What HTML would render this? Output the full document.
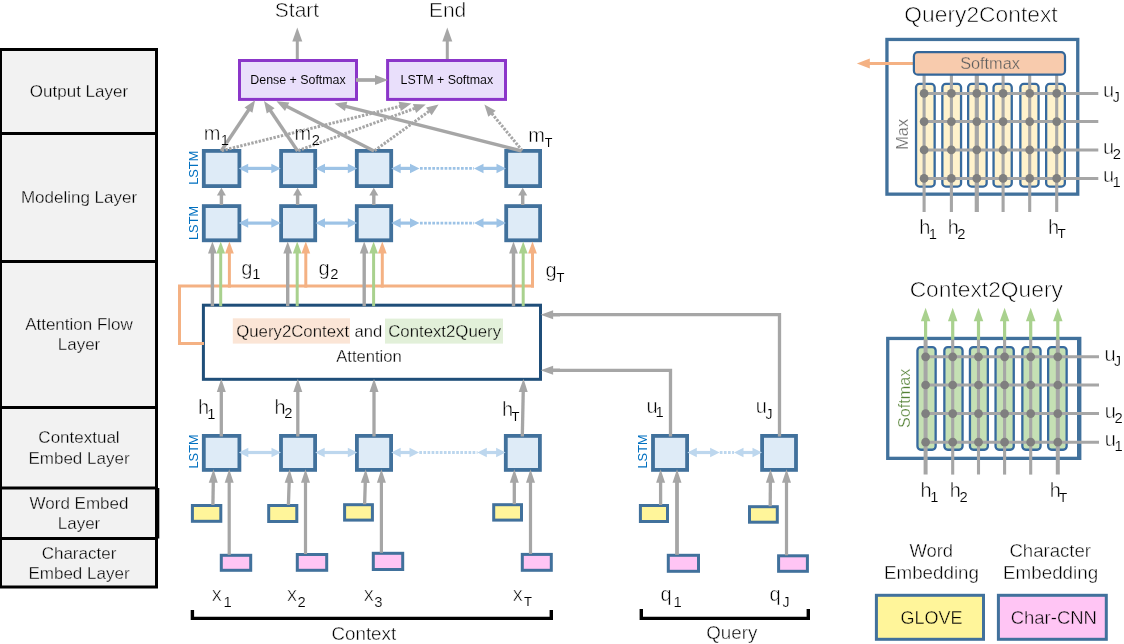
<!DOCTYPE html>
<html><head><meta charset="utf-8"><title>BiDAF</title>
<style>
html,body{margin:0;padding:0;background:#fff;}
body{width:1124px;height:644px;overflow:hidden;}
svg{display:block;font-family:"Liberation Sans",sans-serif;}
</style></head><body>
<svg width="1124" height="644" viewBox="0 0 1124 644" style="will-change:transform">
<rect width="1124" height="644" fill="#fff"/>
<rect x="0.5" y="49.5" width="156" height="537.5" fill="#F2F2F2" stroke="#000" stroke-width="3"/>
<line x1="0" y1="133.5" x2="158" y2="133.5" stroke="#000" stroke-width="3"/>
<line x1="0" y1="261.5" x2="158" y2="261.5" stroke="#000" stroke-width="3"/>
<line x1="0" y1="407.5" x2="158" y2="407.5" stroke="#000" stroke-width="3"/>
<line x1="0" y1="488" x2="158" y2="488" stroke="#000" stroke-width="3"/>
<line x1="0" y1="538.5" x2="158" y2="538.5" stroke="#000" stroke-width="3"/>
<line x1="157.3" y1="488" x2="157.3" y2="538.5" stroke="#000" stroke-width="4"/>
<line x1="297.30" y1="60.00" x2="297.30" y2="38.60" stroke="#A6A6A6" stroke-width="3"/>
<polygon points="297.30,27.40 302.30,41.40 292.30,41.40" fill="#A6A6A6"/>
<line x1="447.30" y1="60.00" x2="447.30" y2="38.60" stroke="#A6A6A6" stroke-width="3"/>
<polygon points="447.30,27.40 452.30,41.40 442.30,41.40" fill="#A6A6A6"/>
<rect x="239.50" y="60.50" width="117.00" height="38.90" fill="#E9DFFB" stroke="#8B36C9" stroke-width="3" rx="0"/>
<rect x="387.60" y="60.50" width="117.90" height="38.90" fill="#E9DFFB" stroke="#8B36C9" stroke-width="3" rx="0"/>
<line x1="356.00" y1="80.00" x2="377.60" y2="80.00" stroke="#A6A6A6" stroke-width="3.7"/>
<polygon points="388.00,80.00 375.00,84.90 375.00,75.10" fill="#A6A6A6"/>
<rect x="203.80" y="150.90" width="35.60" height="35.20" fill="#DEEBF7" stroke="#41719C" stroke-width="3.8" rx="0"/>
<rect x="281.10" y="150.90" width="34.10" height="35.20" fill="#DEEBF7" stroke="#41719C" stroke-width="3.8" rx="0"/>
<rect x="356.80" y="150.90" width="34.40" height="35.20" fill="#DEEBF7" stroke="#41719C" stroke-width="3.8" rx="0"/>
<rect x="506.20" y="150.90" width="33.90" height="35.20" fill="#DEEBF7" stroke="#41719C" stroke-width="3.8" rx="0"/>
<rect x="203.80" y="206.10" width="35.60" height="34.20" fill="#DEEBF7" stroke="#41719C" stroke-width="3.8" rx="0"/>
<rect x="281.10" y="206.10" width="34.10" height="34.20" fill="#DEEBF7" stroke="#41719C" stroke-width="3.8" rx="0"/>
<rect x="356.80" y="206.10" width="34.40" height="34.20" fill="#DEEBF7" stroke="#41719C" stroke-width="3.8" rx="0"/>
<rect x="506.20" y="206.10" width="33.90" height="34.20" fill="#DEEBF7" stroke="#41719C" stroke-width="3.8" rx="0"/>
<line x1="221.80" y1="150.60" x2="402.08" y2="105.81" stroke="#A6A6A6" stroke-width="3" stroke-dasharray="2.4 1.4"/>
<polygon points="411.40,103.50 400.90,111.00 398.61,101.78" fill="#A6A6A6"/>
<line x1="298.20" y1="150.60" x2="416.77" y2="107.67" stroke="#A6A6A6" stroke-width="3" stroke-dasharray="2.4 1.4"/>
<polygon points="425.80,104.40 416.13,112.95 412.90,104.02" fill="#A6A6A6"/>
<line x1="374.60" y1="150.60" x2="430.82" y2="110.02" stroke="#A6A6A6" stroke-width="3" stroke-dasharray="2.4 1.4"/>
<polygon points="438.60,104.40 431.65,115.28 426.09,107.57" fill="#A6A6A6"/>
<line x1="522.20" y1="150.60" x2="490.48" y2="111.83" stroke="#A6A6A6" stroke-width="3" stroke-dasharray="2.4 1.4"/>
<polygon points="484.40,104.40 495.68,110.68 488.32,116.70" fill="#A6A6A6"/>
<line x1="221.20" y1="151.00" x2="249.77" y2="108.19" stroke="#A6A6A6" stroke-width="3.4"/>
<polygon points="255.10,100.20 252.39,112.82 244.49,107.54" fill="#A6A6A6"/>
<line x1="297.60" y1="151.00" x2="269.35" y2="108.97" stroke="#A6A6A6" stroke-width="3.4"/>
<polygon points="264.00,101.00 274.64,108.31 266.75,113.61" fill="#A6A6A6"/>
<line x1="374.00" y1="151.00" x2="285.05" y2="105.57" stroke="#A6A6A6" stroke-width="3.4"/>
<polygon points="276.50,101.20 289.35,102.43 285.03,110.89" fill="#A6A6A6"/>
<line x1="521.60" y1="151.00" x2="343.80" y2="105.86" stroke="#A6A6A6" stroke-width="3.4"/>
<polygon points="334.50,103.50 347.30,101.85 344.96,111.06" fill="#A6A6A6"/>
<line x1="221.40" y1="205.00" x2="221.40" y2="194.04" stroke="#A6A6A6" stroke-width="3.4"/>
<polygon points="221.40,187.80 225.90,195.60 216.90,195.60" fill="#A6A6A6"/>
<line x1="297.60" y1="205.00" x2="297.60" y2="194.04" stroke="#A6A6A6" stroke-width="3.4"/>
<polygon points="297.60,187.80 302.10,195.60 293.10,195.60" fill="#A6A6A6"/>
<line x1="373.80" y1="205.00" x2="373.80" y2="194.04" stroke="#A6A6A6" stroke-width="3.4"/>
<polygon points="373.80,187.80 378.30,195.60 369.30,195.60" fill="#A6A6A6"/>
<line x1="522.70" y1="205.00" x2="522.70" y2="194.04" stroke="#A6A6A6" stroke-width="3.4"/>
<polygon points="522.70,187.80 527.20,195.60 518.20,195.60" fill="#A6A6A6"/>
<line x1="246.30" y1="168.40" x2="273.20" y2="168.40" stroke="#9DC3E6" stroke-width="3.2"/>
<polygon points="280.80,168.40 271.30,173.15 271.30,163.65" fill="#9DC3E6"/>
<polygon points="238.70,168.40 248.20,173.15 248.20,163.65" fill="#9DC3E6"/>
<line x1="323.10" y1="168.40" x2="349.70" y2="168.40" stroke="#9DC3E6" stroke-width="3.2"/>
<polygon points="357.30,168.40 347.80,173.15 347.80,163.65" fill="#9DC3E6"/>
<polygon points="315.50,168.40 325.00,173.15 325.00,163.65" fill="#9DC3E6"/>
<line x1="398.80" y1="168.40" x2="411.90" y2="168.40" stroke="#9DC3E6" stroke-width="3.2"/>
<polygon points="419.50,168.40 410.00,173.15 410.00,163.65" fill="#9DC3E6"/>
<polygon points="391.20,168.40 400.70,173.15 400.70,163.65" fill="#9DC3E6"/>
<line x1="481.60" y1="168.40" x2="498.40" y2="168.40" stroke="#9DC3E6" stroke-width="3.2"/>
<polygon points="506.00,168.40 496.50,173.15 496.50,163.65" fill="#9DC3E6"/>
<polygon points="474.00,168.40 483.50,173.15 483.50,163.65" fill="#9DC3E6"/>
<line x1="420" y1="168.4" x2="474" y2="168.4" stroke="#9DC3E6" stroke-width="2.8" stroke-dasharray="2.7 1.4"/>
<line x1="246.30" y1="223.10" x2="273.20" y2="223.10" stroke="#9DC3E6" stroke-width="3.2"/>
<polygon points="280.80,223.10 271.30,227.85 271.30,218.35" fill="#9DC3E6"/>
<polygon points="238.70,223.10 248.20,227.85 248.20,218.35" fill="#9DC3E6"/>
<line x1="323.10" y1="223.10" x2="349.70" y2="223.10" stroke="#9DC3E6" stroke-width="3.2"/>
<polygon points="357.30,223.10 347.80,227.85 347.80,218.35" fill="#9DC3E6"/>
<polygon points="315.50,223.10 325.00,227.85 325.00,218.35" fill="#9DC3E6"/>
<line x1="398.80" y1="223.10" x2="411.90" y2="223.10" stroke="#9DC3E6" stroke-width="3.2"/>
<polygon points="419.50,223.10 410.00,227.85 410.00,218.35" fill="#9DC3E6"/>
<polygon points="391.20,223.10 400.70,227.85 400.70,218.35" fill="#9DC3E6"/>
<line x1="481.60" y1="223.10" x2="498.40" y2="223.10" stroke="#9DC3E6" stroke-width="3.2"/>
<polygon points="506.00,223.10 496.50,227.85 496.50,218.35" fill="#9DC3E6"/>
<polygon points="474.00,223.10 483.50,227.85 483.50,218.35" fill="#9DC3E6"/>
<line x1="420" y1="223.1" x2="474" y2="223.1" stroke="#9DC3E6" stroke-width="2.8" stroke-dasharray="2.7 1.4"/>
<rect x="203.40" y="305.20" width="337.10" height="74.10" fill="#fff" stroke="#1F4E79" stroke-width="3" rx="0"/>
<polyline points="204,343.6 179.5,343.6 179.5,286.1 534,286.1" fill="none" stroke="#F4B183" stroke-width="3"/>
<line x1="212.40" y1="306.20" x2="212.40" y2="251.20" stroke="#A6A6A6" stroke-width="3.4"/>
<polygon points="212.40,241.60 216.80,253.60 208.00,253.60" fill="#A6A6A6"/>
<line x1="220.70" y1="306.20" x2="220.70" y2="251.20" stroke="#A9D18E" stroke-width="3"/>
<polygon points="220.70,241.60 225.10,253.60 216.30,253.60" fill="#A9D18E"/>
<line x1="229.40" y1="287.60" x2="229.40" y2="251.20" stroke="#F4B183" stroke-width="3"/>
<polygon points="229.40,241.60 233.80,253.60 225.00,253.60" fill="#F4B183"/>
<line x1="287.70" y1="306.20" x2="287.70" y2="251.20" stroke="#A6A6A6" stroke-width="3.4"/>
<polygon points="287.70,241.60 292.10,253.60 283.30,253.60" fill="#A6A6A6"/>
<line x1="297.20" y1="306.20" x2="297.20" y2="251.20" stroke="#A9D18E" stroke-width="3"/>
<polygon points="297.20,241.60 301.60,253.60 292.80,253.60" fill="#A9D18E"/>
<line x1="305.80" y1="287.60" x2="305.80" y2="251.20" stroke="#F4B183" stroke-width="3"/>
<polygon points="305.80,241.60 310.20,253.60 301.40,253.60" fill="#F4B183"/>
<line x1="364.20" y1="306.20" x2="364.20" y2="251.20" stroke="#A6A6A6" stroke-width="3.4"/>
<polygon points="364.20,241.60 368.60,253.60 359.80,253.60" fill="#A6A6A6"/>
<line x1="373.60" y1="306.20" x2="373.60" y2="251.20" stroke="#A9D18E" stroke-width="3"/>
<polygon points="373.60,241.60 378.00,253.60 369.20,253.60" fill="#A9D18E"/>
<line x1="382.30" y1="287.60" x2="382.30" y2="251.20" stroke="#F4B183" stroke-width="3"/>
<polygon points="382.30,241.60 386.70,253.60 377.90,253.60" fill="#F4B183"/>
<line x1="513.50" y1="306.20" x2="513.50" y2="251.20" stroke="#A6A6A6" stroke-width="3.4"/>
<polygon points="513.50,241.60 517.90,253.60 509.10,253.60" fill="#A6A6A6"/>
<line x1="523.20" y1="306.20" x2="523.20" y2="251.20" stroke="#A9D18E" stroke-width="3"/>
<polygon points="523.20,241.60 527.60,253.60 518.80,253.60" fill="#A9D18E"/>
<line x1="532.50" y1="287.60" x2="532.50" y2="251.20" stroke="#F4B183" stroke-width="3"/>
<polygon points="532.50,241.60 536.90,253.60 528.10,253.60" fill="#F4B183"/>
<rect x="232.8" y="318.3" width="117.2" height="25.3" fill="#FBE5D6"/>
<rect x="385" y="318.6" width="118" height="25" fill="#E2F0D9"/>
<rect x="203.80" y="435.90" width="35.60" height="34.00" fill="#DEEBF7" stroke="#41719C" stroke-width="3.8" rx="0"/>
<rect x="281.00" y="435.90" width="34.10" height="34.00" fill="#DEEBF7" stroke="#41719C" stroke-width="3.8" rx="0"/>
<rect x="356.90" y="435.90" width="34.20" height="34.00" fill="#DEEBF7" stroke="#41719C" stroke-width="3.8" rx="0"/>
<rect x="505.80" y="435.90" width="34.10" height="34.00" fill="#DEEBF7" stroke="#41719C" stroke-width="3.8" rx="0"/>
<rect x="653.00" y="435.90" width="34.10" height="34.00" fill="#DEEBF7" stroke="#41719C" stroke-width="3.8" rx="0"/>
<rect x="762.10" y="435.90" width="33.90" height="34.00" fill="#DEEBF7" stroke="#41719C" stroke-width="3.8" rx="0"/>
<rect x="192.40" y="505.50" width="28.40" height="15.80" fill="#FFF59A" stroke="#41719C" stroke-width="3" rx="0"/>
<rect x="221.30" y="555.30" width="29.40" height="15.00" fill="#FFC5F4" stroke="#41719C" stroke-width="3" rx="0"/>
<line x1="212.90" y1="505.00" x2="213.32" y2="480.10" stroke="#A6A6A6" stroke-width="3.3"/>
<polygon points="213.50,469.30 217.77,482.87 208.77,482.72" fill="#A6A6A6"/>
<line x1="229.20" y1="554.80" x2="229.20" y2="480.10" stroke="#A6A6A6" stroke-width="3.2"/>
<polygon points="229.20,469.30 233.70,482.80 224.70,482.80" fill="#A6A6A6"/>
<rect x="268.70" y="505.50" width="28.10" height="16.00" fill="#FFF59A" stroke="#41719C" stroke-width="3" rx="0"/>
<rect x="297.30" y="554.50" width="29.40" height="15.80" fill="#FFC5F4" stroke="#41719C" stroke-width="3" rx="0"/>
<line x1="288.40" y1="505.00" x2="289.24" y2="480.09" stroke="#A6A6A6" stroke-width="3.3"/>
<polygon points="289.60,469.30 293.64,482.94 284.65,482.64" fill="#A6A6A6"/>
<line x1="305.50" y1="554.00" x2="305.50" y2="480.10" stroke="#A6A6A6" stroke-width="3.2"/>
<polygon points="305.50,469.30 310.00,482.80 301.00,482.80" fill="#A6A6A6"/>
<rect x="344.60" y="504.70" width="27.80" height="15.40" fill="#FFF59A" stroke="#41719C" stroke-width="3" rx="0"/>
<rect x="373.30" y="553.30" width="29.40" height="16.20" fill="#FFC5F4" stroke="#41719C" stroke-width="3" rx="0"/>
<line x1="364.60" y1="504.20" x2="365.36" y2="480.09" stroke="#A6A6A6" stroke-width="3.3"/>
<polygon points="365.70,469.30 369.77,482.94 360.78,482.65" fill="#A6A6A6"/>
<line x1="381.40" y1="552.80" x2="381.40" y2="480.10" stroke="#A6A6A6" stroke-width="3.2"/>
<polygon points="381.40,469.30 385.90,482.80 376.90,482.80" fill="#A6A6A6"/>
<rect x="493.70" y="504.70" width="27.80" height="15.40" fill="#FFF59A" stroke="#41719C" stroke-width="3" rx="0"/>
<rect x="522.30" y="554.40" width="29.00" height="15.90" fill="#FFC5F4" stroke="#41719C" stroke-width="3" rx="0"/>
<line x1="514.30" y1="504.20" x2="514.30" y2="480.10" stroke="#A6A6A6" stroke-width="3.3"/>
<polygon points="514.30,469.30 518.80,482.80 509.80,482.80" fill="#A6A6A6"/>
<line x1="530.50" y1="553.90" x2="530.50" y2="480.10" stroke="#A6A6A6" stroke-width="3.2"/>
<polygon points="530.50,469.30 535.00,482.80 526.00,482.80" fill="#A6A6A6"/>
<rect x="640.40" y="505.50" width="27.10" height="16.00" fill="#FFF59A" stroke="#41719C" stroke-width="3" rx="0"/>
<rect x="668.30" y="555.30" width="30.20" height="16.00" fill="#FFC5F4" stroke="#41719C" stroke-width="3" rx="0"/>
<line x1="660.60" y1="505.00" x2="660.60" y2="480.10" stroke="#A6A6A6" stroke-width="3.3"/>
<polygon points="660.60,469.30 665.10,482.80 656.10,482.80" fill="#A6A6A6"/>
<line x1="677.00" y1="554.80" x2="677.00" y2="480.10" stroke="#A6A6A6" stroke-width="3.8"/>
<polygon points="677.00,469.30 681.50,482.80 672.50,482.80" fill="#A6A6A6"/>
<rect x="749.50" y="506.70" width="27.80" height="15.50" fill="#FFF59A" stroke="#41719C" stroke-width="3" rx="0"/>
<rect x="778.60" y="555.80" width="28.80" height="15.50" fill="#FFC5F4" stroke="#41719C" stroke-width="3" rx="0"/>
<line x1="770.20" y1="506.20" x2="770.41" y2="480.10" stroke="#A6A6A6" stroke-width="3.3"/>
<polygon points="770.50,469.30 774.89,482.84 765.89,482.76" fill="#A6A6A6"/>
<line x1="786.50" y1="555.30" x2="786.50" y2="480.10" stroke="#A6A6A6" stroke-width="3.2"/>
<polygon points="786.50,469.30 791.00,482.80 782.00,482.80" fill="#A6A6A6"/>
<line x1="221.30" y1="436.50" x2="221.30" y2="389.36" stroke="#A6A6A6" stroke-width="3.3"/>
<polygon points="221.30,378.80 225.80,392.00 216.80,392.00" fill="#A6A6A6"/>
<line x1="297.80" y1="436.50" x2="297.80" y2="389.36" stroke="#A6A6A6" stroke-width="3.3"/>
<polygon points="297.80,378.80 302.30,392.00 293.30,392.00" fill="#A6A6A6"/>
<line x1="374.00" y1="436.50" x2="374.00" y2="389.36" stroke="#A6A6A6" stroke-width="3.3"/>
<polygon points="374.00,378.80 378.50,392.00 369.50,392.00" fill="#A6A6A6"/>
<line x1="522.30" y1="436.50" x2="523.28" y2="389.36" stroke="#A6A6A6" stroke-width="3.3"/>
<polygon points="523.50,378.80 527.72,392.09 518.73,391.90" fill="#A6A6A6"/>
<line x1="246.40" y1="452.50" x2="273.40" y2="452.50" stroke="#BDD7EE" stroke-width="3.2"/>
<polygon points="281.00,452.50 271.50,457.25 271.50,447.75" fill="#BDD7EE"/>
<polygon points="238.80,452.50 248.30,457.25 248.30,447.75" fill="#BDD7EE"/>
<line x1="322.80" y1="452.50" x2="349.70" y2="452.50" stroke="#BDD7EE" stroke-width="3.2"/>
<polygon points="357.30,452.50 347.80,457.25 347.80,447.75" fill="#BDD7EE"/>
<polygon points="315.20,452.50 324.70,457.25 324.70,447.75" fill="#BDD7EE"/>
<line x1="398.80" y1="452.50" x2="411.40" y2="452.50" stroke="#BDD7EE" stroke-width="3.2"/>
<polygon points="419.00,452.50 409.50,457.25 409.50,447.75" fill="#BDD7EE"/>
<polygon points="391.20,452.50 400.70,457.25 400.70,447.75" fill="#BDD7EE"/>
<line x1="484.90" y1="452.50" x2="498.00" y2="452.50" stroke="#BDD7EE" stroke-width="3.2"/>
<polygon points="505.60,452.50 496.10,457.25 496.10,447.75" fill="#BDD7EE"/>
<polygon points="477.30,452.50 486.80,457.25 486.80,447.75" fill="#BDD7EE"/>
<line x1="419.3" y1="452.5" x2="477.5" y2="452.5" stroke="#BDD7EE" stroke-width="2.8" stroke-dasharray="2.7 1.4"/>
<line x1="694.90" y1="452.50" x2="712.00" y2="452.50" stroke="#BDD7EE" stroke-width="3.2"/>
<polygon points="719.60,452.50 710.10,457.25 710.10,447.75" fill="#BDD7EE"/>
<polygon points="687.30,452.50 696.80,457.25 696.80,447.75" fill="#BDD7EE"/>
<line x1="741.60" y1="452.50" x2="754.40" y2="452.50" stroke="#BDD7EE" stroke-width="3.2"/>
<polygon points="762.00,452.50 752.50,457.25 752.50,447.75" fill="#BDD7EE"/>
<polygon points="734.00,452.50 743.50,457.25 743.50,447.75" fill="#BDD7EE"/>
<line x1="719.8" y1="452.5" x2="734" y2="452.5" stroke="#BDD7EE" stroke-width="2.8" stroke-dasharray="2.7 1.4"/>
<polyline points="670.5,436.5 670.5,370.3 552,370.3" fill="none" stroke="#A6A6A6" stroke-width="3.3"/>
<line x1="560.00" y1="370.30" x2="550.60" y2="370.30" stroke="#A6A6A6" stroke-width="3.3"/>
<polygon points="540.60,370.30 553.10,365.80 553.10,374.80" fill="#A6A6A6"/>
<polyline points="779.5,436.5 779.5,314.7 552,314.7" fill="none" stroke="#A6A6A6" stroke-width="3.3"/>
<line x1="560.00" y1="314.70" x2="550.60" y2="314.70" stroke="#A6A6A6" stroke-width="3.3"/>
<polygon points="540.60,314.70 553.10,310.20 553.10,319.20" fill="#A6A6A6"/>
<polyline points="192.4,610 192.4,618.4 551.3,618.4 551.3,610" fill="none" stroke="#000" stroke-width="3.4"/>
<polyline points="641.3,609 641.3,618.4 808.3,618.4 808.3,609" fill="none" stroke="#000" stroke-width="3.4"/>
<rect x="916.05" y="83.95" width="18.60" height="102.60" fill="#FFF2CC" stroke="#376A9E" stroke-width="2.3" rx="3.4"/>
<rect x="942.35" y="83.95" width="18.70" height="102.60" fill="#FFF2CC" stroke="#376A9E" stroke-width="2.3" rx="3.4"/>
<rect x="968.15" y="83.95" width="18.50" height="102.60" fill="#FFF2CC" stroke="#376A9E" stroke-width="2.3" rx="3.4"/>
<rect x="993.55" y="83.95" width="18.20" height="102.60" fill="#FFF2CC" stroke="#376A9E" stroke-width="2.3" rx="3.4"/>
<rect x="1020.35" y="83.95" width="18.20" height="102.60" fill="#FFF2CC" stroke="#376A9E" stroke-width="2.3" rx="3.4"/>
<rect x="1046.15" y="83.95" width="18.70" height="102.60" fill="#FFF2CC" stroke="#376A9E" stroke-width="2.3" rx="3.4"/>
<rect x="886.95" y="39.45" width="190.80" height="154.70" fill="none" stroke="#41719C" stroke-width="3.3" rx="0"/>
<line x1="924.1" y1="74" x2="924.1" y2="212" stroke="#A6A6A6" stroke-width="3.1"/>
<line x1="951.4" y1="74" x2="951.4" y2="212" stroke="#A6A6A6" stroke-width="3.1"/>
<line x1="976.8" y1="74" x2="976.8" y2="212" stroke="#A6A6A6" stroke-width="4.2"/>
<line x1="1003.1" y1="74" x2="1003.1" y2="212" stroke="#A6A6A6" stroke-width="3.1"/>
<line x1="1029.7" y1="74" x2="1029.7" y2="212" stroke="#A6A6A6" stroke-width="3.1"/>
<line x1="1056.7" y1="74" x2="1056.7" y2="212" stroke="#A6A6A6" stroke-width="3.1"/>
<line x1="924.1" y1="93.4" x2="1098.3" y2="93.4" stroke="#A6A6A6" stroke-width="3"/>
<line x1="924.1" y1="121.6" x2="1098.3" y2="121.6" stroke="#A6A6A6" stroke-width="3"/>
<line x1="924.1" y1="149.9" x2="1098.3" y2="149.9" stroke="#A6A6A6" stroke-width="3"/>
<line x1="924.1" y1="178.4" x2="1098.3" y2="178.4" stroke="#A6A6A6" stroke-width="3"/>
<circle cx="924.1" cy="93.4" r="4.35" fill="#7F7F7F"/>
<circle cx="924.1" cy="121.6" r="4.35" fill="#7F7F7F"/>
<circle cx="924.1" cy="149.9" r="4.35" fill="#7F7F7F"/>
<circle cx="924.1" cy="178.4" r="4.35" fill="#7F7F7F"/>
<circle cx="951.4" cy="93.4" r="4.35" fill="#7F7F7F"/>
<circle cx="951.4" cy="121.6" r="4.35" fill="#7F7F7F"/>
<circle cx="951.4" cy="149.9" r="4.35" fill="#7F7F7F"/>
<circle cx="951.4" cy="178.4" r="4.35" fill="#7F7F7F"/>
<circle cx="976.8" cy="93.4" r="4.35" fill="#7F7F7F"/>
<circle cx="976.8" cy="121.6" r="4.35" fill="#7F7F7F"/>
<circle cx="976.8" cy="149.9" r="4.35" fill="#7F7F7F"/>
<circle cx="976.8" cy="178.4" r="4.35" fill="#7F7F7F"/>
<circle cx="1003.1" cy="93.4" r="4.35" fill="#7F7F7F"/>
<circle cx="1003.1" cy="121.6" r="4.35" fill="#7F7F7F"/>
<circle cx="1003.1" cy="149.9" r="4.35" fill="#7F7F7F"/>
<circle cx="1003.1" cy="178.4" r="4.35" fill="#7F7F7F"/>
<circle cx="1029.7" cy="93.4" r="4.35" fill="#7F7F7F"/>
<circle cx="1029.7" cy="121.6" r="4.35" fill="#7F7F7F"/>
<circle cx="1029.7" cy="149.9" r="4.35" fill="#7F7F7F"/>
<circle cx="1029.7" cy="178.4" r="4.35" fill="#7F7F7F"/>
<circle cx="1056.7" cy="93.4" r="4.35" fill="#7F7F7F"/>
<circle cx="1056.7" cy="121.6" r="4.35" fill="#7F7F7F"/>
<circle cx="1056.7" cy="149.9" r="4.35" fill="#7F7F7F"/>
<circle cx="1056.7" cy="178.4" r="4.35" fill="#7F7F7F"/>
<line x1="914.00" y1="63.40" x2="867.20" y2="63.40" stroke="#F4B183" stroke-width="3"/>
<polygon points="856.80,63.40 869.80,58.40 869.80,68.40" fill="#F4B183"/>
<rect x="913.90" y="52.20" width="151.10" height="22.50" fill="#F8CBAD" stroke="#346699" stroke-width="2.2" rx="4"/>
<rect x="917.45" y="347.15" width="18.20" height="102.60" fill="#C5E0B4" stroke="#376A9E" stroke-width="2.3" rx="3.4"/>
<rect x="944.35" y="347.15" width="18.20" height="102.60" fill="#C5E0B4" stroke="#376A9E" stroke-width="2.3" rx="3.4"/>
<rect x="969.95" y="347.15" width="17.90" height="102.60" fill="#C5E0B4" stroke="#376A9E" stroke-width="2.3" rx="3.4"/>
<rect x="995.55" y="347.15" width="18.20" height="102.60" fill="#C5E0B4" stroke="#376A9E" stroke-width="2.3" rx="3.4"/>
<rect x="1022.35" y="347.15" width="18.20" height="102.60" fill="#C5E0B4" stroke="#376A9E" stroke-width="2.3" rx="3.4"/>
<rect x="1048.15" y="347.15" width="18.50" height="102.60" fill="#C5E0B4" stroke="#376A9E" stroke-width="2.3" rx="3.4"/>
<rect x="887.75" y="338.45" width="192.00" height="119.90" fill="none" stroke="#41719C" stroke-width="3.3" rx="0"/>
<line x1="1079" y1="337" x2="1079" y2="460" stroke="#41719C" stroke-width="4"/>
<line x1="925.6" y1="339" x2="925.6" y2="474.6" stroke="#A6A6A6" stroke-width="4"/>
<line x1="925.60" y1="339.50" x2="925.60" y2="318.60" stroke="#A9D18E" stroke-width="3.2"/>
<polygon points="925.60,307.80 930.35,321.30 920.85,321.30" fill="#A9D18E"/>
<line x1="952.7" y1="339" x2="952.7" y2="474.6" stroke="#A6A6A6" stroke-width="3.1"/>
<line x1="952.70" y1="339.50" x2="952.70" y2="318.60" stroke="#A9D18E" stroke-width="3.2"/>
<polygon points="952.70,307.80 957.45,321.30 947.95,321.30" fill="#A9D18E"/>
<line x1="978.5" y1="339" x2="978.5" y2="474.6" stroke="#A6A6A6" stroke-width="3.1"/>
<line x1="978.50" y1="339.50" x2="978.50" y2="318.60" stroke="#A9D18E" stroke-width="3.2"/>
<polygon points="978.50,307.80 983.25,321.30 973.75,321.30" fill="#A9D18E"/>
<line x1="1004.6" y1="339" x2="1004.6" y2="474.6" stroke="#A6A6A6" stroke-width="3.1"/>
<line x1="1004.60" y1="339.50" x2="1004.60" y2="318.60" stroke="#A9D18E" stroke-width="3.2"/>
<polygon points="1004.60,307.80 1009.35,321.30 999.85,321.30" fill="#A9D18E"/>
<line x1="1030.7" y1="339" x2="1030.7" y2="474.6" stroke="#A6A6A6" stroke-width="3.1"/>
<line x1="1030.70" y1="339.50" x2="1030.70" y2="318.60" stroke="#A9D18E" stroke-width="3.2"/>
<polygon points="1030.70,307.80 1035.45,321.30 1025.95,321.30" fill="#A9D18E"/>
<line x1="1057.8" y1="339" x2="1057.8" y2="474.6" stroke="#A6A6A6" stroke-width="4"/>
<line x1="1057.80" y1="339.50" x2="1057.80" y2="318.60" stroke="#A9D18E" stroke-width="3.2"/>
<polygon points="1057.80,307.80 1062.55,321.30 1053.05,321.30" fill="#A9D18E"/>
<line x1="925.6" y1="356.8" x2="1099" y2="356.8" stroke="#A6A6A6" stroke-width="3"/>
<line x1="925.6" y1="385" x2="1099" y2="385" stroke="#A6A6A6" stroke-width="3"/>
<line x1="925.6" y1="413.6" x2="1099" y2="413.6" stroke="#A6A6A6" stroke-width="3"/>
<line x1="925.6" y1="442.2" x2="1099" y2="442.2" stroke="#A6A6A6" stroke-width="3"/>
<circle cx="925.6" cy="356.8" r="4.35" fill="#7F7F7F"/>
<circle cx="925.6" cy="385" r="4.35" fill="#7F7F7F"/>
<circle cx="925.6" cy="413.6" r="4.35" fill="#7F7F7F"/>
<circle cx="925.6" cy="442.2" r="4.35" fill="#7F7F7F"/>
<circle cx="952.7" cy="356.8" r="4.35" fill="#7F7F7F"/>
<circle cx="952.7" cy="385" r="4.35" fill="#7F7F7F"/>
<circle cx="952.7" cy="413.6" r="4.35" fill="#7F7F7F"/>
<circle cx="952.7" cy="442.2" r="4.35" fill="#7F7F7F"/>
<circle cx="978.5" cy="356.8" r="4.35" fill="#7F7F7F"/>
<circle cx="978.5" cy="385" r="4.35" fill="#7F7F7F"/>
<circle cx="978.5" cy="413.6" r="4.35" fill="#7F7F7F"/>
<circle cx="978.5" cy="442.2" r="4.35" fill="#7F7F7F"/>
<circle cx="1004.6" cy="356.8" r="4.35" fill="#7F7F7F"/>
<circle cx="1004.6" cy="385" r="4.35" fill="#7F7F7F"/>
<circle cx="1004.6" cy="413.6" r="4.35" fill="#7F7F7F"/>
<circle cx="1004.6" cy="442.2" r="4.35" fill="#7F7F7F"/>
<circle cx="1030.7" cy="356.8" r="4.35" fill="#7F7F7F"/>
<circle cx="1030.7" cy="385" r="4.35" fill="#7F7F7F"/>
<circle cx="1030.7" cy="413.6" r="4.35" fill="#7F7F7F"/>
<circle cx="1030.7" cy="442.2" r="4.35" fill="#7F7F7F"/>
<circle cx="1057.8" cy="356.8" r="4.35" fill="#7F7F7F"/>
<circle cx="1057.8" cy="385" r="4.35" fill="#7F7F7F"/>
<circle cx="1057.8" cy="413.6" r="4.35" fill="#7F7F7F"/>
<circle cx="1057.8" cy="442.2" r="4.35" fill="#7F7F7F"/>
<rect x="876.40" y="595.30" width="107.10" height="44.00" fill="#FFF59A" stroke="#41719C" stroke-width="3" rx="0"/>
<rect x="998.40" y="595.30" width="107.90" height="44.00" fill="#FFC5F4" stroke="#41719C" stroke-width="3" rx="0"/>
<text x="79.00" y="96.70" font-size="17" text-anchor="middle" fill="#000" stroke="#F2F2F2" stroke-width="0.311">Output Layer</text>
<text x="79.00" y="203.00" font-size="17" text-anchor="middle" fill="#000" stroke="#F2F2F2" stroke-width="0.311">Modeling Layer</text>
<text x="79.00" y="329.70" font-size="17" text-anchor="middle" fill="#000" stroke="#F2F2F2" stroke-width="0.311">Attention Flow</text>
<text x="79.00" y="349.60" font-size="17" text-anchor="middle" fill="#000" stroke="#F2F2F2" stroke-width="0.311">Layer</text>
<text x="79.00" y="443.30" font-size="17" text-anchor="middle" fill="#000" stroke="#F2F2F2" stroke-width="0.311">Contextual</text>
<text x="79.00" y="463.80" font-size="17" text-anchor="middle" fill="#000" stroke="#F2F2F2" stroke-width="0.311">Embed Layer</text>
<text x="79.00" y="509.00" font-size="17" text-anchor="middle" fill="#000" stroke="#F2F2F2" stroke-width="0.311">Word Embed</text>
<text x="79.00" y="528.80" font-size="17" text-anchor="middle" fill="#000" stroke="#F2F2F2" stroke-width="0.311">Layer</text>
<text x="79.00" y="559.20" font-size="17" text-anchor="middle" fill="#000" stroke="#F2F2F2" stroke-width="0.311">Character</text>
<text x="79.00" y="578.60" font-size="17" text-anchor="middle" fill="#000" stroke="#F2F2F2" stroke-width="0.311">Embed Layer</text>
<text x="298.00" y="84.30" font-size="12.4" text-anchor="middle" fill="#000" stroke="#E9DFFB" stroke-width="0.038">Dense + Softmax</text>
<text x="446.80" y="84.30" font-size="12.4" text-anchor="middle" fill="#000" stroke="#E9DFFB" stroke-width="0.038">LSTM + Softmax</text>
<text x="297.00" y="17.30" font-size="21" text-anchor="middle" fill="#000" stroke="#fff" stroke-width="0.550">Start</text>
<text x="447.60" y="17.30" font-size="21" text-anchor="middle" fill="#000" stroke="#fff" stroke-width="0.550">End</text>
<text transform="translate(198.30,184.80) rotate(-90)" font-size="12.8" fill="#0070C0" stroke="#fff" stroke-width="0.000">LSTM</text>
<text transform="translate(198.30,240.00) rotate(-90)" font-size="12.8" fill="#0070C0" stroke="#fff" stroke-width="0.000">LSTM</text>
<text x="203.70" y="139.50" font-size="20" text-anchor="start" fill="#000" stroke="#fff" stroke-width="0.490">m</text>
<text x="220.86" y="145.00" font-size="14.8" text-anchor="start" fill="#000" stroke="#fff" stroke-width="0.181">1</text>
<text x="294.60" y="139.50" font-size="20" text-anchor="start" fill="#000" stroke="#fff" stroke-width="0.490">m</text>
<text x="311.76" y="145.00" font-size="14.8" text-anchor="start" fill="#000" stroke="#fff" stroke-width="0.181">2</text>
<text x="528.20" y="141.50" font-size="20" text-anchor="start" fill="#000" stroke="#fff" stroke-width="0.490">m</text>
<text x="544.80" y="146.50" font-size="12.5" text-anchor="start" fill="#000" stroke="#fff" stroke-width="0.044">T</text>
<text x="236.20" y="336.60" font-size="16.8" text-anchor="start" fill="#000" stroke="#FBE5D6" stroke-width="0.300">Query2Context</text>
<text x="354.50" y="336.60" font-size="16.6" text-anchor="start" fill="#000" stroke="#fff" stroke-width="0.288">and</text>
<text x="388.20" y="336.60" font-size="16.8" text-anchor="start" fill="#000" stroke="#E2F0D9" stroke-width="0.300">Context2Query</text>
<text x="369.00" y="362.40" font-size="16.6" text-anchor="middle" fill="#000" stroke="#fff" stroke-width="0.288">Attention</text>
<text x="241.20" y="275.40" font-size="20" text-anchor="start" fill="#000" stroke="#fff" stroke-width="0.490">g</text>
<text x="252.20" y="279.10" font-size="14.8" text-anchor="start" fill="#000" stroke="#fff" stroke-width="0.181">1</text>
<text x="318.40" y="275.40" font-size="20" text-anchor="start" fill="#000" stroke="#fff" stroke-width="0.490">g</text>
<text x="330.20" y="279.10" font-size="14.8" text-anchor="start" fill="#000" stroke="#fff" stroke-width="0.181">2</text>
<text x="545.40" y="276.80" font-size="20" text-anchor="start" fill="#000" stroke="#fff" stroke-width="0.490">g</text>
<text x="556.60" y="281.60" font-size="13" text-anchor="start" fill="#000" stroke="#fff" stroke-width="0.073">T</text>
<text transform="translate(198.30,468.50) rotate(-90)" font-size="12.8" fill="#0070C0" stroke="#fff" stroke-width="0.000">LSTM</text>
<text transform="translate(647.20,468.50) rotate(-90)" font-size="12.8" fill="#0070C0" stroke="#fff" stroke-width="0.000">LSTM</text>
<text x="197.90" y="413.80" font-size="20" text-anchor="start" fill="#000" stroke="#fff" stroke-width="0.490">h</text>
<text x="207.30" y="418.80" font-size="14.8" text-anchor="start" fill="#000" stroke="#fff" stroke-width="0.181">1</text>
<text x="274.60" y="413.80" font-size="20" text-anchor="start" fill="#000" stroke="#fff" stroke-width="0.490">h</text>
<text x="284.20" y="418.40" font-size="14.8" text-anchor="start" fill="#000" stroke="#fff" stroke-width="0.181">2</text>
<text x="502.00" y="416.00" font-size="20" text-anchor="start" fill="#000" stroke="#fff" stroke-width="0.490">h</text>
<text x="511.40" y="420.80" font-size="13" text-anchor="start" fill="#000" stroke="#fff" stroke-width="0.073">T</text>
<text x="646.50" y="412.70" font-size="20" text-anchor="start" fill="#000" stroke="#fff" stroke-width="0.490">u</text>
<text x="655.50" y="417.20" font-size="14.8" text-anchor="start" fill="#000" stroke="#fff" stroke-width="0.181">1</text>
<text x="755.80" y="412.70" font-size="20" text-anchor="start" fill="#000" stroke="#fff" stroke-width="0.490">u</text>
<text x="765.40" y="418.50" font-size="14" text-anchor="start" fill="#000" stroke="#fff" stroke-width="0.133">J</text>
<text x="211.80" y="601.00" font-size="20" text-anchor="start" fill="#000" stroke="#fff" stroke-width="0.490">x</text>
<text x="223.60" y="606.60" font-size="14.8" text-anchor="start" fill="#000" stroke="#fff" stroke-width="0.181">1</text>
<text x="287.00" y="601.00" font-size="20" text-anchor="start" fill="#000" stroke="#fff" stroke-width="0.490">x</text>
<text x="297.60" y="606.60" font-size="14.8" text-anchor="start" fill="#000" stroke="#fff" stroke-width="0.181">2</text>
<text x="363.70" y="601.00" font-size="20" text-anchor="start" fill="#000" stroke="#fff" stroke-width="0.490">x</text>
<text x="374.30" y="606.60" font-size="14.8" text-anchor="start" fill="#000" stroke="#fff" stroke-width="0.181">3</text>
<text x="512.80" y="601.00" font-size="20" text-anchor="start" fill="#000" stroke="#fff" stroke-width="0.490">x</text>
<text x="524.00" y="606.20" font-size="13" text-anchor="start" fill="#000" stroke="#fff" stroke-width="0.073">T</text>
<text x="660.60" y="600.50" font-size="20" text-anchor="start" fill="#000" stroke="#fff" stroke-width="0.490">q</text>
<text x="673.50" y="606.50" font-size="14.8" text-anchor="start" fill="#000" stroke="#fff" stroke-width="0.181">1</text>
<text x="769.40" y="600.50" font-size="20" text-anchor="start" fill="#000" stroke="#fff" stroke-width="0.490">q</text>
<text x="782.60" y="606.50" font-size="14" text-anchor="start" fill="#000" stroke="#fff" stroke-width="0.133">J</text>
<text x="363.80" y="639.50" font-size="18.8" text-anchor="middle" fill="#000" stroke="#fff" stroke-width="0.419">Context</text>
<text x="731.80" y="638.80" font-size="18.8" text-anchor="middle" fill="#000" stroke="#fff" stroke-width="0.419">Query</text>
<text x="981.00" y="21.90" font-size="22.8" text-anchor="middle" fill="#000" stroke="#fff" stroke-width="0.657">Query2Context</text>
<text x="990.00" y="68.80" font-size="16.3" text-anchor="middle" fill="#5E5E5E" stroke="#F8CBAD" stroke-width="0.270">Softmax</text>
<text transform="translate(908.30,149.80) rotate(-90)" font-size="16.4" fill="#5E5E5E" stroke="#fff" stroke-width="0.276">Max</text>
<text x="919.20" y="233.60" font-size="20" text-anchor="start" fill="#000" stroke="#fff" stroke-width="0.490">h</text>
<text x="928.70" y="238.60" font-size="14.8" text-anchor="start" fill="#000" stroke="#fff" stroke-width="0.181">1</text>
<text x="947.80" y="233.60" font-size="20" text-anchor="start" fill="#000" stroke="#fff" stroke-width="0.490">h</text>
<text x="957.30" y="238.60" font-size="14.8" text-anchor="start" fill="#000" stroke="#fff" stroke-width="0.181">2</text>
<text x="1048.00" y="233.60" font-size="20" text-anchor="start" fill="#000" stroke="#fff" stroke-width="0.490">h</text>
<text x="1057.40" y="237.50" font-size="13.5" text-anchor="start" fill="#000" stroke="#fff" stroke-width="0.103">T</text>
<text x="1103.00" y="96.90" font-size="20" text-anchor="start" fill="#000" stroke="#fff" stroke-width="0.490">u</text>
<text x="1112.80" y="102.10" font-size="14" text-anchor="start" fill="#000" stroke="#fff" stroke-width="0.133">J</text>
<text x="1103.00" y="153.90" font-size="20" text-anchor="start" fill="#000" stroke="#fff" stroke-width="0.490">u</text>
<text x="1112.80" y="159.10" font-size="14.8" text-anchor="start" fill="#000" stroke="#fff" stroke-width="0.181">2</text>
<text x="1103.00" y="182.10" font-size="20" text-anchor="start" fill="#000" stroke="#fff" stroke-width="0.490">u</text>
<text x="1112.60" y="186.70" font-size="14.8" text-anchor="start" fill="#000" stroke="#fff" stroke-width="0.181">1</text>
<text x="986.30" y="297.30" font-size="22.8" text-anchor="middle" fill="#000" stroke="#fff" stroke-width="0.657">Context2Query</text>
<text transform="translate(910.20,428.00) rotate(-90)" font-size="16.2" fill="#548235" stroke="#fff" stroke-width="0.264">Softmax</text>
<text x="920.50" y="497.00" font-size="20" text-anchor="start" fill="#000" stroke="#fff" stroke-width="0.490">h</text>
<text x="930.30" y="501.80" font-size="14.8" text-anchor="start" fill="#000" stroke="#fff" stroke-width="0.181">1</text>
<text x="949.80" y="497.00" font-size="20" text-anchor="start" fill="#000" stroke="#fff" stroke-width="0.490">h</text>
<text x="959.40" y="501.80" font-size="14.8" text-anchor="start" fill="#000" stroke="#fff" stroke-width="0.181">2</text>
<text x="1049.80" y="497.00" font-size="20" text-anchor="start" fill="#000" stroke="#fff" stroke-width="0.490">h</text>
<text x="1059.00" y="501.60" font-size="13.5" text-anchor="start" fill="#000" stroke="#fff" stroke-width="0.103">T</text>
<text x="1104.60" y="360.80" font-size="20" text-anchor="start" fill="#000" stroke="#fff" stroke-width="0.490">u</text>
<text x="1114.00" y="365.60" font-size="14" text-anchor="start" fill="#000" stroke="#fff" stroke-width="0.133">J</text>
<text x="1104.80" y="417.60" font-size="20" text-anchor="start" fill="#000" stroke="#fff" stroke-width="0.490">u</text>
<text x="1114.40" y="422.60" font-size="14.8" text-anchor="start" fill="#000" stroke="#fff" stroke-width="0.181">2</text>
<text x="1104.80" y="446.00" font-size="20" text-anchor="start" fill="#000" stroke="#fff" stroke-width="0.490">u</text>
<text x="1114.40" y="451.00" font-size="14.8" text-anchor="start" fill="#000" stroke="#fff" stroke-width="0.181">1</text>
<text x="931.20" y="556.60" font-size="18.4" text-anchor="middle" fill="#000" stroke="#fff" stroke-width="0.395">Word</text>
<text x="931.50" y="579.40" font-size="18.8" text-anchor="middle" fill="#000" stroke="#fff" stroke-width="0.419">Embedding</text>
<text x="1050.20" y="556.60" font-size="18.6" text-anchor="middle" fill="#000" stroke="#fff" stroke-width="0.407">Character</text>
<text x="1050.60" y="579.40" font-size="18.8" text-anchor="middle" fill="#000" stroke="#fff" stroke-width="0.419">Embedding</text>
<text x="931.50" y="623.60" font-size="18" text-anchor="middle" fill="#000" stroke="#FFF59A" stroke-width="0.371">GLOVE</text>
<text x="1053.80" y="623.60" font-size="18.5" text-anchor="middle" fill="#000" stroke="#FFC5F4" stroke-width="0.401">Char-CNN</text>
</svg>
</body></html>
